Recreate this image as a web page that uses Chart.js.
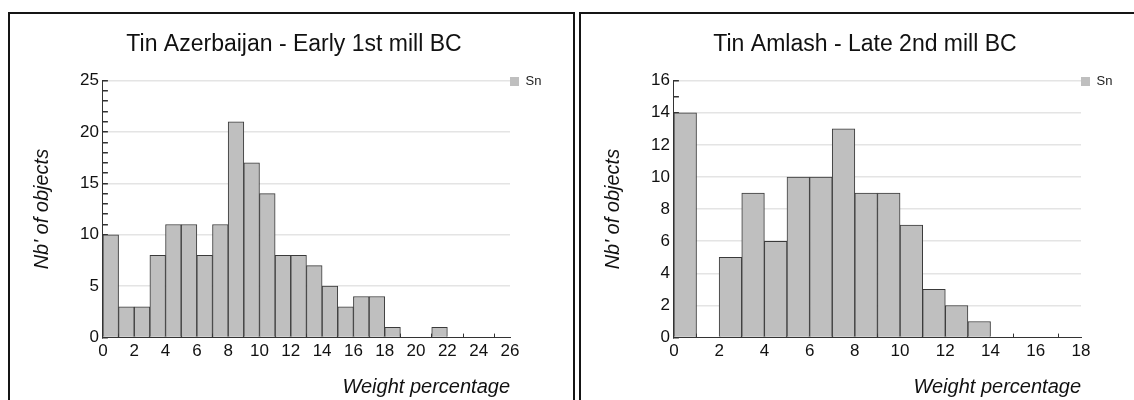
<!DOCTYPE html>
<html>
<head>
<meta charset="utf-8">
<script src="https://cdn.jsdelivr.net/npm/chart.js@4"></script>
<style>
  body { margin: 0; background: #fff; overflow: hidden; }
  .box {
    position: absolute; top: 12px; width: 567px; height: 430px;
    box-sizing: border-box; border: 2px solid #151515; background: #fff;
  }
  .box canvas { display: block; }
</style>
</head>
<body>
<div class="box" style="left:8px"><canvas id="azChart" width="563" height="396"></canvas></div>
<div class="box" style="left:579px"><canvas id="amChart" width="563" height="396"></canvas></div>
<script>
// counts per 1 % bin, bin i = [i, i+1)
const azTitle = "Tin Azerbaijan - Early 1st mill BC";
const azCounts = [10, 3, 3, 8, 11, 11, 8, 11, 21, 17, 14, 8, 8, 7, 5, 3, 4, 4, 1, 0, 0, 1, 0, 0, 0, 0];
const azXMax = 26;
const azYMax = 25;
const azYStep = 5;

const amTitle = "Tin Amlash - Late 2nd mill BC";
const amCounts = [14, 0, 5, 9, 6, 10, 10, 13, 9, 9, 7, 3, 2, 1, 0, 0, 0, 0];
const amXMax = 18;
const amYMax = 16;
const amYStep = 2;

const seriesName = "Sn";
const xTitle = "Weight percentage";
const yTitle = "Nb' of objects";

const fontFamily = "'Liberation Sans', Arial, sans-serif";
const textColor = "#111";
const barFill = "#bfbfbf";
const barEdge = "#3a3a3a";
const gridColor = "#e4e4e4";
const axisColor = "#333";

function makeHistogram(canvasId, title, counts, xMax, yMax, yStep) {
  const points = [];
  counts.forEach((c, i) => {
    if (c > 0) points.push({ x: i + 0.5, y: c });
  });

  return new Chart(document.getElementById(canvasId), {
    type: "bar",
    data: {
      datasets: [{
        label: seriesName,
        data: points,
        backgroundColor: barFill,
        borderColor: barEdge,
        borderWidth: 1,
        barPercentage: 1,
        categoryPercentage: 1
      }]
    },
    options: {
      responsive: false,
      animation: false,
      events: [],
      layout: { padding: { left: 36, right: 31, top: 0, bottom: 11 } },
      plugins: {
        title: {
          display: true,
          text: title,
          color: textColor,
          font: { family: fontFamily, size: 23, weight: "normal" },
          padding: { top: 17, bottom: 22 }
        },
        legend: {
          position: "right",
          align: "start",
          maxWidth: 32,
          // empty legend title only pushes the entry down to the top gridline
          title: { display: true, text: " ", font: { size: 10 }, padding: { top: 49, bottom: 0 } },
          labels: {
            boxWidth: 9,
            boxHeight: 9,
            padding: 0,
            color: "#222",
            font: { family: fontFamily, size: 13 },
            generateLabels: () => [{
              text: seriesName, fillStyle: barFill, strokeStyle: barFill, lineWidth: 0, fontColor: "#222"
            }]
          }
        },
        tooltip: { enabled: false }
      },
      scales: {
        x: {
          type: "linear",
          min: 0,
          max: xMax,
          offset: false,
          ticks: {
            stepSize: 2,
            autoSkip: false,
            maxRotation: 0,
            padding: 8,
            color: textColor,
            font: { family: fontFamily, size: 17 }
          },
          // negative length: tick marks point into the plot
          grid: { drawOnChartArea: false, tickLength: -4, tickColor: axisColor },
          border: { color: axisColor, width: 1 },
          title: {
            display: true,
            text: xTitle,
            align: "end",
            color: textColor,
            font: { family: fontFamily, size: 20, style: "italic" },
            padding: { top: 5, bottom: 0 }
          }
        },
        y: {
          min: 0,
          max: yMax,
          ticks: {
            stepSize: 1,
            autoSkip: false,
            padding: 9,
            color: textColor,
            font: { family: fontFamily, size: 17 },
            callback: (v) => (v % yStep === 0 ? v : "")
          },
          grid: {
            color: (ctx) => (ctx.tick && ctx.tick.value % yStep === 0 && ctx.tick.value > 0 ? gridColor : "rgba(0,0,0,0)"),
            lineWidth: 1.5,
            tickLength: -5,
            tickColor: axisColor
          },
          border: { color: axisColor, width: 1 },
          title: {
            display: true,
            text: yTitle,
            color: textColor,
            font: { family: fontFamily, size: 20, style: "italic" },
            padding: { top: -16, bottom: 17 }
          }
        }
      }
    }
  });
}

makeHistogram("azChart", azTitle, azCounts, azXMax, azYMax, azYStep);
makeHistogram("amChart", amTitle, amCounts, amXMax, amYMax, amYStep);
</script>
</body>
</html>
